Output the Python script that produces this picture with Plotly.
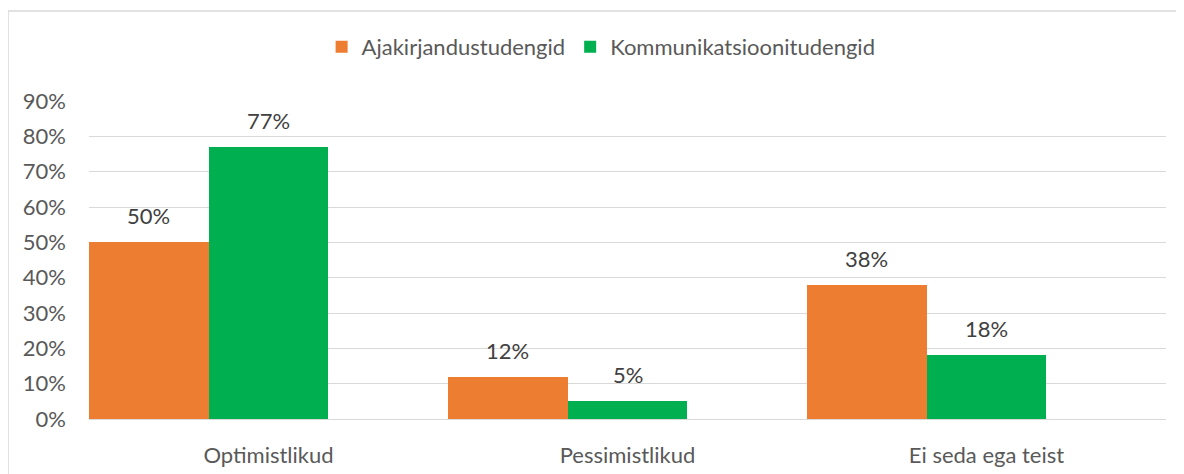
import plotly.graph_objects as go

categories = ["Optimistlikud", "Pessimistlikud", "Ei seda ega teist"]
series_names = ["Ajakirjandustudengid", "Kommunikatsioonitudengid"]
ajakirjandus = [50, 12, 38]
kommunikatsioon = [77, 5, 18]
tick_vals = [0, 10, 20, 30, 40, 50, 60, 70, 80, 90]
tick_text = [f"{v}%" for v in tick_vals]

colors = ["#ED7D31", "#00B050"]
font_family = "Lato, 'Open Sans', sans-serif"
fs = 22

W, H = 1176, 466  # page body has an 8px default margin
L, R, T, B = 81, 18, 93, 55
plot_w = W - L - R
plot_h = H - T - B
slot_px = plot_w / 3 / 3  # three bar slots per category

fig = go.Figure()
for name, vals, col in zip(series_names, [ajakirjandus, kommunikatsioon], colors):
    fig.add_trace(go.Bar(
        x=categories, y=vals, name=name,
        marker=dict(color=col, line=dict(width=0)),
    ))
# empty third slot (as in the original chart's layout)
fig.add_trace(go.Bar(x=categories, y=[None, None, None], showlegend=False,
                     hoverinfo="skip", marker=dict(color="rgba(0,0,0,0)")))

annotations = []
for si, vals in enumerate([ajakirjandus, kommunikatsioon]):
    for cat, v in zip(categories, vals):
        annotations.append(dict(
            x=cat, y=v, xref="x", yref="y", text=f"{v}%", showarrow=False,
            xanchor="center", yanchor="bottom", xshift=(si - 1) * slot_px, yshift=11,
            font=dict(size=fs, color="#404040", family=font_family),
        ))

fig.update_layout(
    width=W, height=H,
    margin=dict(l=L, r=R, t=T, b=B, autoexpand=False),
    paper_bgcolor="white", plot_bgcolor="white",
    barmode="group", bargap=0, bargroupgap=0,
    font=dict(family=font_family, size=fs, color="#595959"),
    legend=dict(orientation="h", x=0.4755, xanchor="center", y=1 - 39/H, yanchor="middle",
                yref="container", font=dict(size=fs, color="#595959"),
                traceorder="normal", itemwidth=30),
    showlegend=True,
    annotations=annotations,
    xaxis=dict(range=[-0.5, 2.5], showgrid=False, showline=False, ticks="", automargin=False,
               tickfont=dict(size=fs, color="#595959"), ticklabelstandoff=21),
    yaxis=dict(range=[0, 90], tickvals=tick_vals, ticktext=tick_text, showgrid=True,
               gridcolor="#D9D9D9", gridwidth=1, zeroline=True, zerolinecolor="#D9D9D9",
               zerolinewidth=1, showline=False, ticks="", automargin=False,
               tickfont=dict(size=fs, color="#595959"), ticklabelstandoff=22),
)
fig.add_shape(type="rect", xref="paper", yref="paper", x0=-L/plot_w, x1=1.2, y0=-0.5,
              y1=1 + (T - 3)/plot_h, line=dict(color="#D9D9D9", width=1.5),
              fillcolor="rgba(0,0,0,0)", layer="below")

fig.write_html("out.html")
